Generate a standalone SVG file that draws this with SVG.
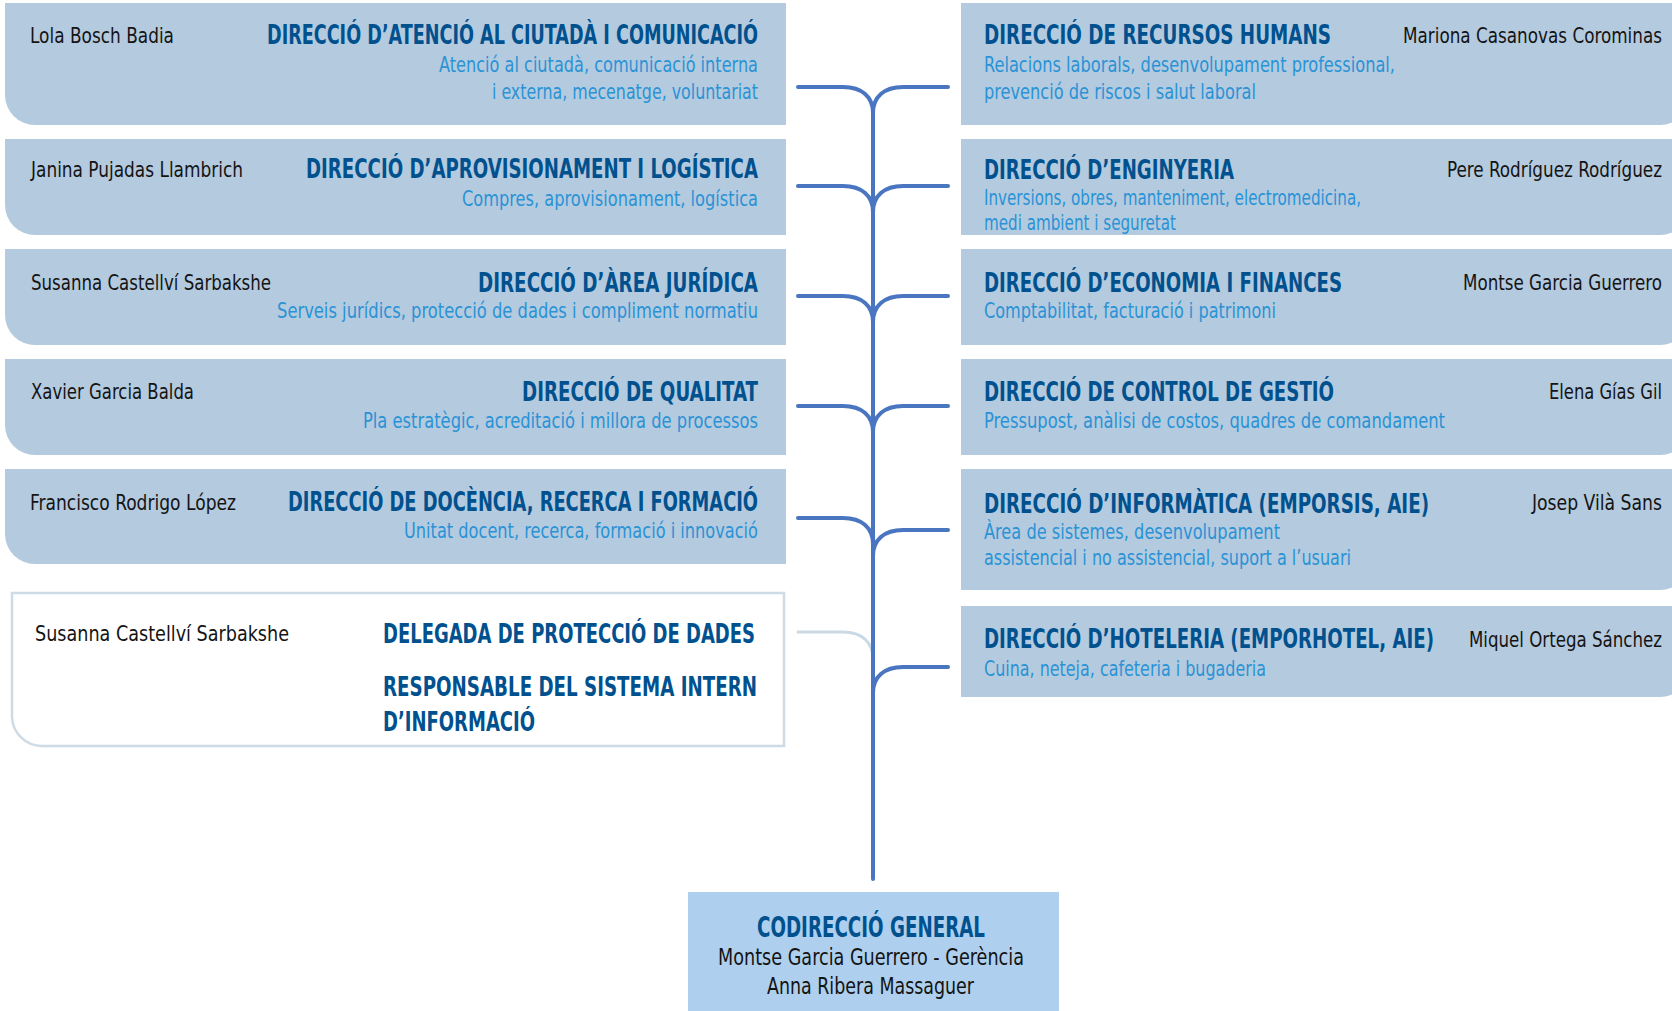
<svg xmlns="http://www.w3.org/2000/svg" width="1672" height="1011" viewBox="0 0 1672 1011">
<style>
.box{fill:#b4cadf}
.dpd{fill:#ffffff;stroke:#cddbe7;stroke-width:2.5}
.main{fill:#aed0ee}
.t{font-family:"Liberation Sans Narrow","DejaVu Sans Condensed","Liberation Sans",sans-serif;font-weight:bold;font-size:26px;fill:#00518e}
.d{font-family:"Liberation Sans Narrow","DejaVu Sans Condensed","Liberation Sans",sans-serif;font-size:21px;fill:#2a93d5}
.n{font-family:"Liberation Sans Narrow","DejaVu Sans Condensed","Liberation Sans",sans-serif;font-size:21px;fill:#141414}
.bt{font-family:"Liberation Sans Narrow","DejaVu Sans Condensed","Liberation Sans",sans-serif;font-weight:bold;font-size:29px;fill:#00518e}
.bn{font-family:"Liberation Sans Narrow","DejaVu Sans Condensed","Liberation Sans",sans-serif;font-size:23px;fill:#141414}
.c{fill:none;stroke:#4a75c1;stroke-width:4;stroke-linecap:round}
.cl{fill:none;stroke:#c9d9e6;stroke-width:3;stroke-linecap:round}
</style>
<rect width="1672" height="1011" fill="#ffffff"/>
<g id="connectors">
<path class="cl" d="M798,632 H843 C862,632 873,642 873,660"/>
<path class="c" d="M873,113 V879"/>
<path class="c" d="M798,87 H843 C862,87 873,97 873,113 M948,87 H903 C884,87 873,97 873,113"/>
<path class="c" d="M798,186 H843 C862,186 873,196 873,212 M948,186 H903 C884,186 873,196 873,212"/>
<path class="c" d="M798,296 H843 C862,296 873,306 873,322 M948,296 H903 C884,296 873,306 873,322"/>
<path class="c" d="M798,406 H843 C862,406 873,416 873,432 M948,406 H903 C884,406 873,416 873,432"/>
<path class="c" d="M798,518 H843 C862,518 873,528 873,544 M948,530 H903 C884,530 873,540 873,556"/>
<path class="c" d="M948,667 H903 C884,667 873,677 873,693"/>
</g>
<g id="l1">
<path class="box" d="M5,3 H786 V125 H35 A30,30 0 0 1 5,95 Z"/>
<text class="n" x="30" y="43" textLength="144" lengthAdjust="spacingAndGlyphs">Lola Bosch Badia</text>
<text class="t" x="267" y="44" textLength="491" lengthAdjust="spacingAndGlyphs">DIRECCIÓ D’ATENCIÓ AL CIUTADÀ I COMUNICACIÓ</text>
<text class="d" x="439" y="72" textLength="319" lengthAdjust="spacingAndGlyphs">Atenció al ciutadà, comunicació interna</text>
<text class="d" x="492" y="99" textLength="266" lengthAdjust="spacingAndGlyphs">i externa, mecenatge, voluntariat</text>
</g>
<g id="l2">
<path class="box" d="M5,139 H786 V235 H35 A30,30 0 0 1 5,205 Z"/>
<text class="n" x="31" y="177" textLength="212" lengthAdjust="spacingAndGlyphs">Janina Pujadas Llambrich</text>
<text class="t" x="306" y="178" textLength="452" lengthAdjust="spacingAndGlyphs">DIRECCIÓ D’APROVISIONAMENT I LOGÍSTICA</text>
<text class="d" x="462" y="206" textLength="296" lengthAdjust="spacingAndGlyphs">Compres, aprovisionament, logística</text>
</g>
<g id="l3">
<path class="box" d="M5,249 H786 V345 H35 A30,30 0 0 1 5,315 Z"/>
<text class="n" x="31" y="290" textLength="240" lengthAdjust="spacingAndGlyphs">Susanna Castellví Sarbakshe</text>
<text class="t" x="478" y="292" textLength="280" lengthAdjust="spacingAndGlyphs">DIRECCIÓ D’ÀREA JURÍDICA</text>
<text class="d" x="277" y="318" textLength="481" lengthAdjust="spacingAndGlyphs">Serveis jurídics, protecció de dades i compliment normatiu</text>
</g>
<g id="l4">
<path class="box" d="M5,359 H786 V455 H35 A30,30 0 0 1 5,425 Z"/>
<text class="n" x="31" y="399" textLength="163" lengthAdjust="spacingAndGlyphs">Xavier Garcia Balda</text>
<text class="t" x="522" y="401" textLength="236" lengthAdjust="spacingAndGlyphs">DIRECCIÓ DE QUALITAT</text>
<text class="d" x="363" y="428" textLength="395" lengthAdjust="spacingAndGlyphs">Pla estratègic, acreditació i millora de processos</text>
</g>
<g id="l5">
<path class="box" d="M5,469 H786 V564 H35 A30,30 0 0 1 5,534 Z"/>
<text class="n" x="30" y="510" textLength="206" lengthAdjust="spacingAndGlyphs">Francisco Rodrigo López</text>
<text class="t" x="288" y="511" textLength="470" lengthAdjust="spacingAndGlyphs">DIRECCIÓ DE DOCÈNCIA, RECERCA I FORMACIÓ</text>
<text class="d" x="404" y="538" textLength="354" lengthAdjust="spacingAndGlyphs">Unitat docent, recerca, formació i innovació</text>
</g>
<g id="l6">
<path class="dpd" d="M12,593 H784 V746 H42 A30,30 0 0 1 12,716 Z"/>
<text class="n" x="35" y="641" textLength="254" lengthAdjust="spacingAndGlyphs">Susanna Castellví Sarbakshe</text>
<text class="t" x="383" y="643" textLength="372" lengthAdjust="spacingAndGlyphs">DELEGADA DE PROTECCIÓ DE DADES</text>
<text class="t" x="383" y="696" textLength="374" lengthAdjust="spacingAndGlyphs">RESPONSABLE DEL SISTEMA INTERN</text>
<text class="t" x="383" y="731" textLength="152" lengthAdjust="spacingAndGlyphs">D’INFORMACIÓ</text>
</g>
<g id="r1">
<path class="box" d="M961,3 H1690 V95 A30,30 0 0 1 1660,125 H961 Z"/>
<text class="t" x="984" y="44" textLength="347" lengthAdjust="spacingAndGlyphs">DIRECCIÓ DE RECURSOS HUMANS</text>
<text class="n" x="1403" y="43" textLength="259" lengthAdjust="spacingAndGlyphs">Mariona Casanovas Corominas</text>
<text class="d" x="984" y="72" textLength="411" lengthAdjust="spacingAndGlyphs">Relacions laborals, desenvolupament professional,</text>
<text class="d" x="984" y="99" textLength="272" lengthAdjust="spacingAndGlyphs">prevenció de riscos i salut laboral</text>
</g>
<g id="r2">
<path class="box" d="M961,139 H1690 V205 A30,30 0 0 1 1660,235 H961 Z"/>
<text class="t" x="984" y="179" textLength="250" lengthAdjust="spacingAndGlyphs">DIRECCIÓ D’ENGINYERIA</text>
<text class="n" x="1447" y="177" textLength="215" lengthAdjust="spacingAndGlyphs">Pere Rodríguez Rodríguez</text>
<text class="d" x="984" y="205" textLength="377" lengthAdjust="spacingAndGlyphs">Inversions, obres, manteniment, electromedicina,</text>
<text class="d" x="984" y="230" textLength="192" lengthAdjust="spacingAndGlyphs">medi ambient i seguretat</text>
</g>
<g id="r3">
<path class="box" d="M961,249 H1690 V315 A30,30 0 0 1 1660,345 H961 Z"/>
<text class="t" x="984" y="292" textLength="358" lengthAdjust="spacingAndGlyphs">DIRECCIÓ D’ECONOMIA I FINANCES</text>
<text class="n" x="1463" y="290" textLength="199" lengthAdjust="spacingAndGlyphs">Montse Garcia Guerrero</text>
<text class="d" x="984" y="318" textLength="292" lengthAdjust="spacingAndGlyphs">Comptabilitat, facturació i patrimoni</text>
</g>
<g id="r4">
<path class="box" d="M961,359 H1690 V425 A30,30 0 0 1 1660,455 H961 Z"/>
<text class="t" x="984" y="401" textLength="350" lengthAdjust="spacingAndGlyphs">DIRECCIÓ DE CONTROL DE GESTIÓ</text>
<text class="n" x="1549" y="399" textLength="113" lengthAdjust="spacingAndGlyphs">Elena Gías Gil</text>
<text class="d" x="984" y="428" textLength="461" lengthAdjust="spacingAndGlyphs">Pressupost, anàlisi de costos, quadres de comandament</text>
</g>
<g id="r5">
<path class="box" d="M961,469 H1690 V560 A30,30 0 0 1 1660,590 H961 Z"/>
<text class="t" x="984" y="513" textLength="445" lengthAdjust="spacingAndGlyphs">DIRECCIÓ D’INFORMÀTICA (EMPORSIS, AIE)</text>
<text class="n" x="1532" y="510" textLength="130" lengthAdjust="spacingAndGlyphs">Josep Vilà Sans</text>
<text class="d" x="984" y="539" textLength="296" lengthAdjust="spacingAndGlyphs">Àrea de sistemes, desenvolupament</text>
<text class="d" x="984" y="565" textLength="367" lengthAdjust="spacingAndGlyphs">assistencial i no assistencial, suport a l’usuari</text>
</g>
<g id="r6">
<path class="box" d="M961,606 H1690 V667 A30,30 0 0 1 1660,697 H961 Z"/>
<text class="t" x="984" y="648" textLength="450" lengthAdjust="spacingAndGlyphs">DIRECCIÓ D’HOTELERIA (EMPORHOTEL, AIE)</text>
<text class="n" x="1469" y="647" textLength="193" lengthAdjust="spacingAndGlyphs">Miquel Ortega Sánchez</text>
<text class="d" x="984" y="676" textLength="282" lengthAdjust="spacingAndGlyphs">Cuina, neteja, cafeteria i bugaderia</text>
</g>
<g id="codireccio">
<rect class="main" x="688" y="892" width="371" height="130"/>
<text class="bt" x="757" y="937" textLength="228" lengthAdjust="spacingAndGlyphs">CODIRECCIÓ GENERAL</text>
<text class="bn" x="718" y="965" textLength="306" lengthAdjust="spacingAndGlyphs">Montse Garcia Guerrero - Gerència</text>
<text class="bn" x="767" y="994" textLength="207" lengthAdjust="spacingAndGlyphs">Anna Ribera Massaguer</text>
</g>
</svg>
